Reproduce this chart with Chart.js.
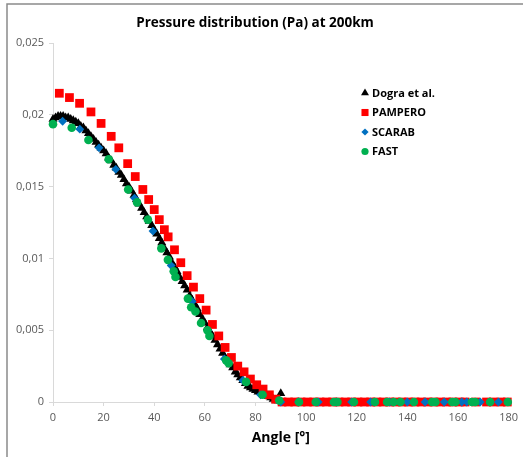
<!DOCTYPE html>
<html>
<head>
<meta charset="utf-8">
<script src="https://cdn.jsdelivr.net/npm/chart.js@4/dist/chart.umd.min.js"></script>
<style>
  html, body { margin: 0; padding: 0; background: #fff; }
  #wrap { position: relative; width: 523px; height: 457px; }
</style>
</head>
<body>
<div id="wrap"><canvas id="c" width="523" height="457"></canvas></div>
<script>
// ---------- DATA ----------
const chartTitle = 'Pressure distribution (Pa) at 200km';
const xAxisTitle = 'Angle [°]';
const seriesNames = ['Dogra et al.', 'PAMPERO', 'SCARAB', 'FAST'];
const xTickLabels = ['0', '20', '40', '60', '80', '100', '120', '140', '160', '180'];
const yTickLabels = ['0', '0,005', '0,01', '0,015', '0,02', '0,025'];

const dograAngle = [0,1,2,3,4,5,6,7,8,9,10,11,12,13,14,15,16,17,18,19,20,21,22,23,24,25,26,27,28,29,30,31,32,33,34,35,36,37,38,39,40,41,42,43,44,45,46,47,48,49,50,51,52,53,54,55,56,57,58,59,60,61,62,63,64,65,66,67,68,69,70,71,72,73,74,75,76,77,78,79,80,81,82,83,84,85,86,87,88,89,90];
const dograValue = [0.0197,0.0198,0.0199,0.0199,0.0199,0.0198,0.0198,0.0197,0.0196,0.0195,
  0.0194,0.0192,0.0191,0.0189,0.0187,0.0185,0.0183,0.0181,0.0179,0.0177,
  0.0175,0.0173,0.0170,0.0168,0.0165,0.0163,0.0160,0.0158,0.0155,0.0152,
  0.0150,0.0147,0.0144,0.0141,0.0138,0.0135,0.0132,0.0129,0.0126,0.0123,
  0.0120,0.0117,0.0114,0.0111,0.0107,0.0104,0.0101,0.0097,0.0094,0.0091,
  0.0087,0.0084,0.0081,0.0078,0.0074,0.0071,0.0068,0.0065,0.0061,0.0058,
  0.0055,0.0052,0.0049,0.0046,0.0043,0.0040,0.0037,0.0034,0.0031,0.0029,
  0.0026,0.0024,0.0021,0.0019,0.0017,0.0015,0.0013,0.0011,0.0010,0.0009,
  0.0008,0.0007,0.0007,0.0008,0.0006,0.0004,0.0003,0.0002,0.0001,0.0001,
  0.0006];

const pamperoAngle = [2.5,6.5,10.5,15,19,23,26,29.5,32.5,35.5,37.8,40,42,44,45.5,48,50.5,53,55.5,58,60.5,63,65.5,68,70.5,73,75.5,78,80.5,83,85.5,88,
  90.5,93,95.5,98,100.5,103,105.5,108,110.5,113,115.5,118,120.5,123,125.5,128,130.5,133,135.5,138,140.5,143,145.5,148,150.5,153,155.5,158,160.5,162.8,167,171.3,174,177,179.5];
const pamperoValue = [0.0215,0.0212,0.0208,0.0202,0.0194,0.0185,0.0177,0.0166,0.0157,0.0148,0.0141,0.0134,0.0127,0.0120,0.0115,0.0106,0.0097,0.0088,0.0080,0.0072,0.0064,0.0054,0.0046,0.0038,0.0031,0.0025,0.0021,0.0016,0.0012,0.0009,0.0005,0.0002,
  0,0,0,0,0,0,0,0,0,0,0,0,0,0,0,0,0,0,0,0,0,0,0,0,0,0,0,0,0,0,0,0,0,0,0];

const scarabAngle = [3.8,10.6,18.2,24.8,32.2,39.5,46.7,55,61.2,67.7,75,82,90,97,104.8,112,118,125.5,133,140,147,154.6,161.5,163.5,168.8,176];
const scarabValue = [0.01955,0.0190,0.0177,0.0162,0.0142,0.0119,0.0095,0.0070,0.0050,0.0030,0.0015,0.0005,0,0,0,0,0,0,0,0,0,0,0,0,0,0];

const fastAngle = [0,7.4,14,22,29.7,33.2,37.5,42.8,45.4,47.7,48.4,53.3,54.6,56.3,58.5,61,61.8,68.4,69.4,76.3,82.8,89.4,
  97.2,103.8,111,112.4,118.9,127.2,132,134.6,137.3,142.6,149.8,151.1,157.7,159,165.5,166.8,172.7,179.7];
const fastValue = [0.01935,0.0191,0.01825,0.0169,0.0148,0.0139,0.0127,0.0107,0.0099,0.0091,0.0087,0.0072,0.0066,0.0063,0.0055,0.0050,0.0046,0.0029,0.0027,0.0014,0.0005,0.0001,
  0,0,0,0,0,0,0,0,0,0,0,0,0,0,0,0,0,0];

// ---------- helpers ----------
function pts(xs, ys) { return xs.map((x, i) => ({ x: x, y: ys[i] })); }

const styles = [
  { color: '#000000', pointStyle: 'triangle', radius: 5.2, legendRadius: 4.6, order: 4 },
  { color: '#ff0000', pointStyle: 'rect', radius: 6.2, legendRadius: 5.0, order: 3 },
  { color: '#0070c0', pointStyle: 'rectRot', radius: 4.4, legendRadius: 3.6, order: 2 },
  { color: '#00b050', pointStyle: 'circle', radius: 4.3, legendRadius: 3.6, order: 1 }
];
const seriesData = [pts(dograAngle, dograValue), pts(pamperoAngle, pamperoValue), pts(scarabAngle, scarabValue), pts(fastAngle, fastValue)];

const datasets = seriesNames.map((name, i) => ({
  label: name,
  data: seriesData[i],
  showLine: false,
  clip: false,
  pointStyle: styles[i].pointStyle,
  pointRadius: styles[i].radius,
  pointHoverRadius: styles[i].radius,
  backgroundColor: styles[i].color,
  borderColor: styles[i].color,
  borderWidth: 0,
  order: styles[i].order
}));

// frame + legend plugin
const framePlugin = {
  id: 'frame',
  beforeDraw(chart) {
    const ctx = chart.ctx;
    ctx.save();
    ctx.strokeStyle = '#8a8a8a';
    ctx.lineWidth = 1.5;
    ctx.beginPath();
    ctx.moveTo(7, 457);
    ctx.lineTo(7, 4);
    ctx.lineTo(523, 4);
    ctx.stroke();
    ctx.restore();
  },
  afterDraw(chart) {
    const ctx = chart.ctx;
    ctx.save();
    const mx = 365, tx = 372, y0 = 93, dy = 19.5;
    seriesNames.forEach((name, i) => {
      const y = y0 + i * dy;
      ctx.fillStyle = styles[i].color;
      ctx.strokeStyle = styles[i].color;
      ctx.lineWidth = 0;
      Chart.helpers.drawPoint(ctx, { pointStyle: styles[i].pointStyle, radius: styles[i].legendRadius, rotation: 0, borderWidth: 0 }, mx, y);
      ctx.fillStyle = '#000000';
      ctx.font = 'bold 11px "Open Sans", sans-serif';
      ctx.textBaseline = 'middle';
      ctx.textAlign = 'left';
      ctx.fillText(name, tx, y + 0.5);
    });
    ctx.restore();
  }
};

const tickFont = { family: '"Open Sans", sans-serif', size: 11 };

new Chart(document.getElementById('c'), {
  type: 'scatter',
  data: { datasets: datasets },
  plugins: [framePlugin],
  options: {
    responsive: false,
    animation: false,
    events: [],
    layout: { padding: { left: 0, right: 13, top: 0, bottom: 0 } },
    plugins: {
      legend: { display: false },
      tooltip: { enabled: false },
      title: {
        display: true,
        text: chartTitle,
        color: '#000000',
        font: { family: '"Open Sans", sans-serif', size: 13.5, weight: 'bold', lineHeight: 1.2 },
        padding: { top: 15, bottom: 11.8 }
      }
    },
    scales: {
      x: {
        type: 'linear',
        min: 0, max: 180,
        afterFit(s) { s.height = 55; },
        ticks: {
          stepSize: 20,
          color: '#595959',
          font: tickFont,
          padding: 5,
          maxRotation: 0,
          callback: (v, i) => xTickLabels[i]
        },
        grid: { drawOnChartArea: false, drawTicks: true, tickLength: 4, color: '#d9d9d9' },
        border: { color: '#d9d9d9', width: 1 },
        title: {
          display: true,
          text: xAxisTitle,
          color: '#000000',
          font: { family: '"Open Sans", sans-serif', size: 14, weight: 'bold', lineHeight: 1.2 },
          padding: { top: 0, bottom: 11 }
        }
      },
      y: {
        type: 'linear',
        min: 0, max: 0.025,
        afterFit(s) { s.width = 53; },
        ticks: {
          stepSize: 0.005,
          color: '#595959',
          font: tickFont,
          padding: 5,
          callback: (v, i) => yTickLabels[i]
        },
        grid: { drawOnChartArea: false, drawTicks: true, tickLength: 4, color: '#d9d9d9' },
        border: { color: '#d9d9d9', width: 1 }
      }
    }
  }
});
</script>
</body>
</html>
